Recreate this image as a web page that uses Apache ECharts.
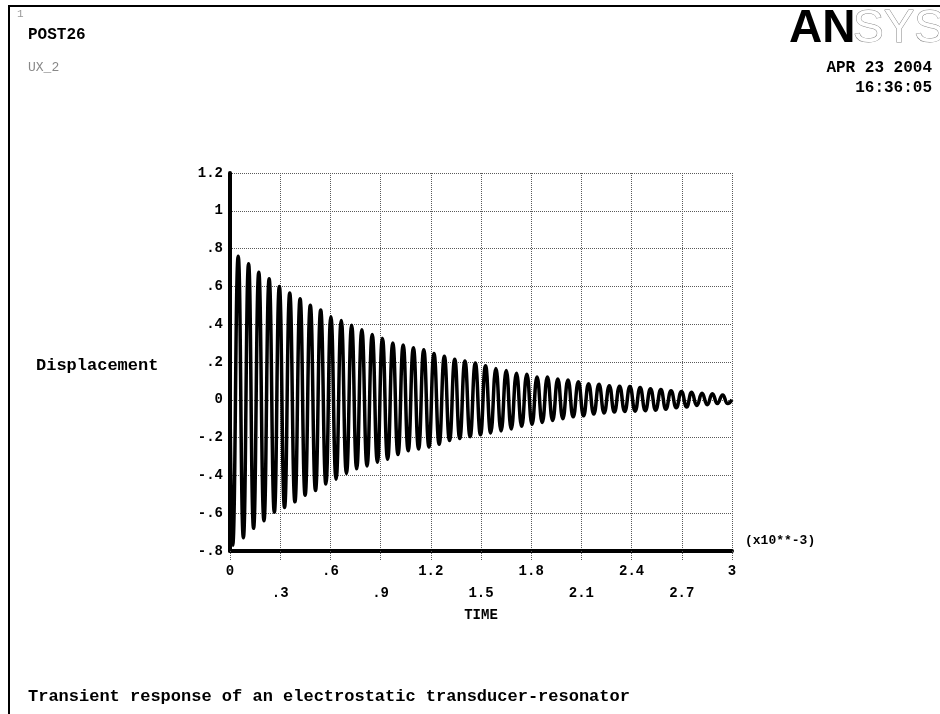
<!DOCTYPE html>
<html>
<head>
<meta charset="utf-8">
<title>POST26 UX_2</title>
<script src="https://cdn.jsdelivr.net/npm/echarts@6.0.0/dist/echarts.min.js"></script>
<style>
  html, body { margin: 0; padding: 0; background: #fff; }
  #chart { width: 940px; height: 714px; }
</style>
</head>
<body>
<div id="chart"></div>
<script>
// time in units of 1e-3 s (peaks and troughs of the response)
var timeMs = [
  0, 0.016,
  0.049, 0.080, 0.111, 0.141, 0.172, 0.203, 0.234, 0.265, 0.295, 0.326,
  0.357, 0.388, 0.419, 0.449, 0.480, 0.511, 0.542, 0.573, 0.603, 0.634,
  0.665, 0.696, 0.727, 0.757, 0.788, 0.819, 0.850, 0.881, 0.911, 0.942,
  0.973, 1.004, 1.035, 1.065, 1.096, 1.127, 1.158, 1.189, 1.219, 1.250,
  1.281, 1.312, 1.343, 1.373, 1.404, 1.435, 1.466, 1.497, 1.527, 1.558,
  1.589, 1.620, 1.651, 1.681, 1.712, 1.743, 1.774, 1.805, 1.835, 1.866,
  1.897, 1.928, 1.959, 1.989, 2.020, 2.051, 2.082, 2.113, 2.143, 2.174,
  2.205, 2.236, 2.267, 2.297, 2.328, 2.359, 2.390, 2.421, 2.451, 2.482,
  2.513, 2.544, 2.575, 2.605, 2.636, 2.667, 2.698, 2.729, 2.759, 2.790,
  2.821, 2.852, 2.883, 2.913, 2.944, 2.975,
  3.0
];

// UX_2 displacement at those times
var displacement = [
  0, -0.77,
  0.76, -0.73, 0.72, -0.68, 0.675, -0.64, 0.64, -0.595, 0.60, -0.57,
  0.565, -0.54, 0.535, -0.505, 0.50, -0.48, 0.475, -0.445, 0.44, -0.42,
  0.42, -0.39, 0.395, -0.365, 0.37, -0.35, 0.345, -0.33, 0.325, -0.315,
  0.30, -0.29, 0.29, -0.27, 0.275, -0.26, 0.265, -0.25, 0.245, -0.235,
  0.23, -0.215, 0.215, -0.205, 0.205, -0.195, 0.195, -0.185, 0.18, -0.175,
  0.165, -0.165, 0.155, -0.155, 0.14, -0.14, 0.135, -0.13, 0.12, -0.12,
  0.12, -0.11, 0.11, -0.10, 0.105, -0.09, 0.095, -0.085, 0.085, -0.075,
  0.082, -0.07, 0.075, -0.065, 0.072, -0.062, 0.07, -0.06, 0.065, -0.058,
  0.058, -0.055, 0.054, -0.05, 0.048, -0.042, 0.044, -0.038, 0.04, -0.03,
  0.034, -0.026, 0.032, -0.02, 0.026, -0.02,
  0.0
];

var xTickLabels = ['0', '.3', '.6', '.9', '1.2', '1.5', '1.8', '2.1', '2.4', '2.7', '3'];
var yTickLabels = ['-.8', '-.6', '-.4', '-.2', '0', '.2', '.4', '.6', '.8', '1', '1.2'];

var MONO = '"Liberation Mono", "DejaVu Sans Mono", monospace';
var gridColor = '#5a5a5a';

var chart = echarts.init(document.getElementById('chart'));

var option = {
  backgroundColor: '#fff',
  animation: false,
  grid: {
    left: 230,
    top: 173,
    right: 208,
    bottom: 163,
    containLabel: false,
    outerBoundsMode: 'none'
  },
  xAxis: {
    type: 'value',
    min: 0,
    max: 3,
    interval: 0.3,
    name: 'TIME',
    nameLocation: 'middle',
    nameGap: 56,
    nameTextStyle: { fontFamily: MONO, fontWeight: 'bold', fontSize: 14, color: '#000' },
    axisLine: { onZero: false, lineStyle: { color: '#000', width: 4 } },
    axisTick: { show: true, length: 9, lineStyle: { color: gridColor, type: 'dotted', width: 1 } },
    axisLabel: {
      margin: 9,
      showMinLabel: true,
      showMaxLabel: true,
      fontFamily: MONO,
      fontWeight: 'bold',
      fontSize: 14,
      color: '#000',
      lineHeight: 22,
      formatter: function (v) {
        var i = Math.round(v / 0.3);
        var s = xTickLabels[i];
        return i % 2 === 0 ? s : '\n' + s;
      }
    },
    splitLine: { show: true, lineStyle: { color: gridColor, type: 'dotted', width: 1 } }
  },
  yAxis: {
    type: 'value',
    min: -0.8,
    max: 1.2,
    interval: 0.2,
    axisLine: { show: true, lineStyle: { color: '#000', width: 4 } },
    axisTick: { show: false },
    axisLabel: {
      margin: 7,
      showMinLabel: true,
      showMaxLabel: true,
      fontFamily: MONO,
      fontWeight: 'bold',
      fontSize: 14,
      color: '#000',
      formatter: function (v) {
        return yTickLabels[Math.round((v + 0.8) / 0.2)];
      }
    },
    splitLine: { show: true, lineStyle: { color: gridColor, type: 'dotted', width: 1 } }
  },
  series: [{
    name: 'UX_2',
    type: 'line',
    data: timeMs.map(function (t, i) { return [t, displacement[i]]; }),
    showSymbol: false,
    smooth: 0.5,
    lineStyle: { color: '#000', width: 3.5 },
    z: 5
  }],
  graphic: [
    { type: 'line', shape: { x1: 8, y1: 6, x2: 940, y2: 6 }, style: { stroke: '#000', lineWidth: 2 } },
    { type: 'line', shape: { x1: 9, y1: 5, x2: 9, y2: 714 }, style: { stroke: '#000', lineWidth: 2 } },
    { type: 'text', x: 17, y: 9, style: { text: '1', font: '11px ' + MONO, fill: '#999' } },
    { type: 'text', x: 28, y: 35, style: { text: 'POST26', font: 'bold 16px ' + MONO, fill: '#000', verticalAlign: 'middle', textVerticalAlign: 'middle' } },
    { type: 'text', x: 28, y: 68, style: { text: 'UX_2', font: '13px ' + MONO, fill: '#888', verticalAlign: 'middle', textVerticalAlign: 'middle' } },
    { type: 'text', x: 789, y: 29, style: { text: 'AN', font: 'bold 46px "Liberation Sans", Arial, sans-serif', fill: '#000', verticalAlign: 'middle', textVerticalAlign: 'middle' } },
    { type: 'text', x: 853, y: 29, style: { text: 'SYS', font: '46px "Liberation Sans", Arial, sans-serif', fill: '#fff', stroke: '#888', lineWidth: 1, verticalAlign: 'middle', textVerticalAlign: 'middle' } },
    { type: 'text', x: 932, y: 68, style: { text: 'APR 23 2004', font: 'bold 16px ' + MONO, fill: '#000', align: 'right', textAlign: 'right', verticalAlign: 'middle', textVerticalAlign: 'middle' } },
    { type: 'text', x: 932, y: 88, style: { text: '16:36:05', font: 'bold 16px ' + MONO, fill: '#000', align: 'right', textAlign: 'right', verticalAlign: 'middle', textVerticalAlign: 'middle' } },
    { type: 'text', x: 36, y: 366, style: { text: 'Displacement', font: 'bold 17px ' + MONO, fill: '#000', verticalAlign: 'middle', textVerticalAlign: 'middle' } },
    { type: 'text', x: 745, y: 541, style: { text: '(x10**-3)', font: 'bold 13px ' + MONO, fill: '#000', verticalAlign: 'middle', textVerticalAlign: 'middle' } },
    { type: 'text', x: 28, y: 697, style: { text: 'Transient response of an electrostatic transducer-resonator', font: 'bold 17px ' + MONO, fill: '#000', verticalAlign: 'middle', textVerticalAlign: 'middle' } }
  ]
};

chart.setOption(option);
</script>
</body>
</html>
